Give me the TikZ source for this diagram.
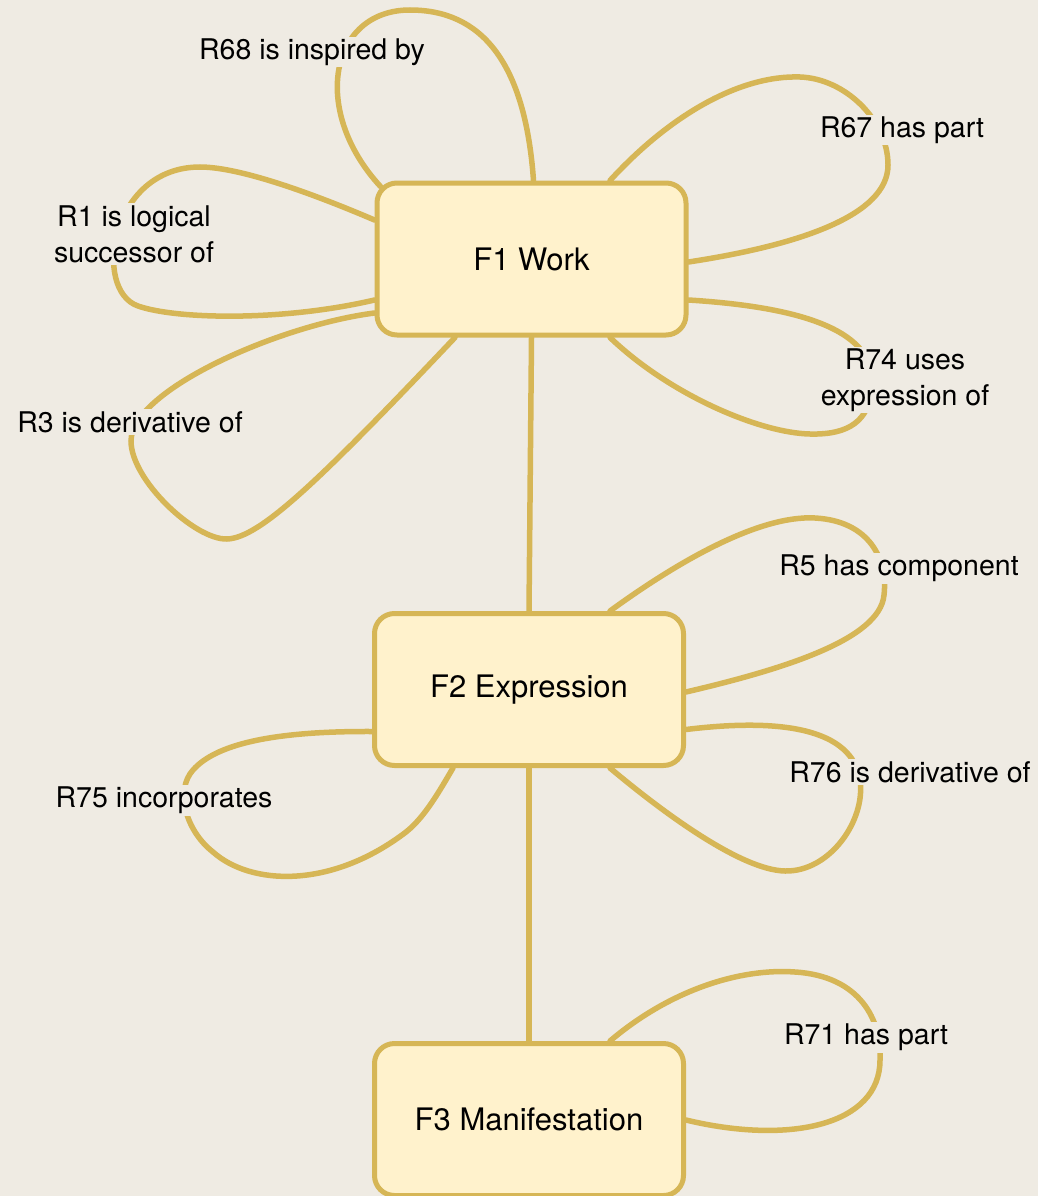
\documentclass[tikz,border=0pt]{standalone}
\usepackage{fontspec}
\setmainfont{TeX Gyre Heros}
\usetikzlibrary{backgrounds}
\definecolor{pagebg}{HTML}{EFEBE3}
\definecolor{linegold}{HTML}{D6B656}
\definecolor{boxfill}{HTML}{FFF2CC}
\tikzset{
  entity/.style={draw=linegold, line width=5pt, fill=boxfill, rounded corners=20pt,
    minimum width=309pt, minimum height=152pt, inner sep=0pt,
    font=\fontsize{31}{36}\selectfont},
  rel/.style={draw=linegold, line width=5.5pt, line cap=round},
  lbl/.style={fill=pagebg, inner sep=2pt, align=center,
    font=\fontsize{28.5}{36}\selectfont}
}
\begin{document}
\begin{tikzpicture}[x=1pt,y=-1pt]
\useasboundingbox (0,0) rectangle (1038,1196);
\node[entity] (F1) at (531.5,259) {F1 Work};
\node[entity] (F2) at (529,689.5) {F2 Expression};
\node[entity] (F3) at (529,1119.5) {F3 Manifestation};
\begin{scope}[on background layer]
\fill[pagebg] (0,0) rectangle (1038,1196);
\draw[rel] (F1.south) -- (F2.north);
\draw[rel] (F2.south) -- (F3.north);
% R68
\draw[rel] ([xshift=2pt]F1.north) .. controls (525,60) and (480,10) .. (410,10)
  .. controls (330,10) and (310,110) .. ([xshift=6pt,yshift=-6pt]F1.north west);
% R1
\draw[rel] ([yshift=39pt]F1.west) .. controls (330,201) and (245,167) .. (200,167)
  .. controls (110,167) and (92,290) .. (138,306)
  .. controls (175,319) and (280,322) .. ([yshift=-41pt]F1.west);
% R3
\draw[rel] ([yshift=-54pt]F1.west) .. controls (280,325) and (131,390) .. (131,441)
  .. controls (131,480) and (195,540) .. (227,539)
  .. controls (260,538) and (320,480) .. ([xshift=-76.5pt]F1.south);
% R67
\draw[rel] ([xshift=78.5pt]F1.north) .. controls (670,115) and (740,75) .. (800,77)
  .. controls (845,78.5) and (888,120) .. (888,165)
  .. controls (888,215) and (800,245) .. ([yshift=-3pt]F1.east);
% R74
\draw[rel] ([yshift=-41pt]F1.east) .. controls (800,307) and (880,330) .. (872,390)
  .. controls (868,420) and (850,435) .. (810,434)
  .. controls (760,433) and (670,395) .. ([xshift=78.5pt]F1.south);
% R5
\draw[rel] ([xshift=81pt]F2.north) .. controls (680,560) and (760,515) .. (815,518)
  .. controls (870,521) and (888,560) .. (884,595)
  .. controls (880,640) and (780,670) .. ([yshift=-2.5pt]F2.east);
% R76
\draw[rel] ([yshift=-40pt]F2.east) .. controls (780,718) and (852,728) .. (860,780)
  .. controls (866,820) and (830,872) .. (785,871)
  .. controls (740,870) and (660,810) .. ([xshift=81pt]F2.south);
% R75
\draw[rel] ([yshift=-42pt]F2.west) .. controls (270,731) and (215,745) .. (193,770)
  .. controls (175,790) and (185,830) .. (213,852)
  .. controls (250,885) and (330,890) .. (406,832)
  .. controls (425,817) and (440,790) .. ([xshift=-76pt]F2.south);
% R71
\draw[rel] ([xshift=81pt]F3.north) .. controls (670,990) and (740,968) .. (795,972)
  .. controls (860,976) and (882,1020) .. (880,1060)
  .. controls (880,1125) and (790,1145) .. ([yshift=-0.5pt]F3.east);
\end{scope}
\node[lbl] (l68) at (312,52) {R68 is inspired by};
\node[lbl] (l1) at (134,234) {R1 is logical\\successor of};
\node[lbl] (l3) at (130,422) {R3 is derivative of};
\node[lbl] (l67) at (902,130) {R67 has part};
\node[lbl] (l74) at (905,380) {R74 uses\\expression of};
\node[lbl] (l5) at (899,568) {R5 has component};
\node[lbl] (l76) at (910,772) {R76 is derivative of};
\node[lbl] (l75) at (164,800) {R75 incorporates};
\node[lbl] (l71) at (866,1037) {R71 has part};
\end{tikzpicture}
\end{document}
